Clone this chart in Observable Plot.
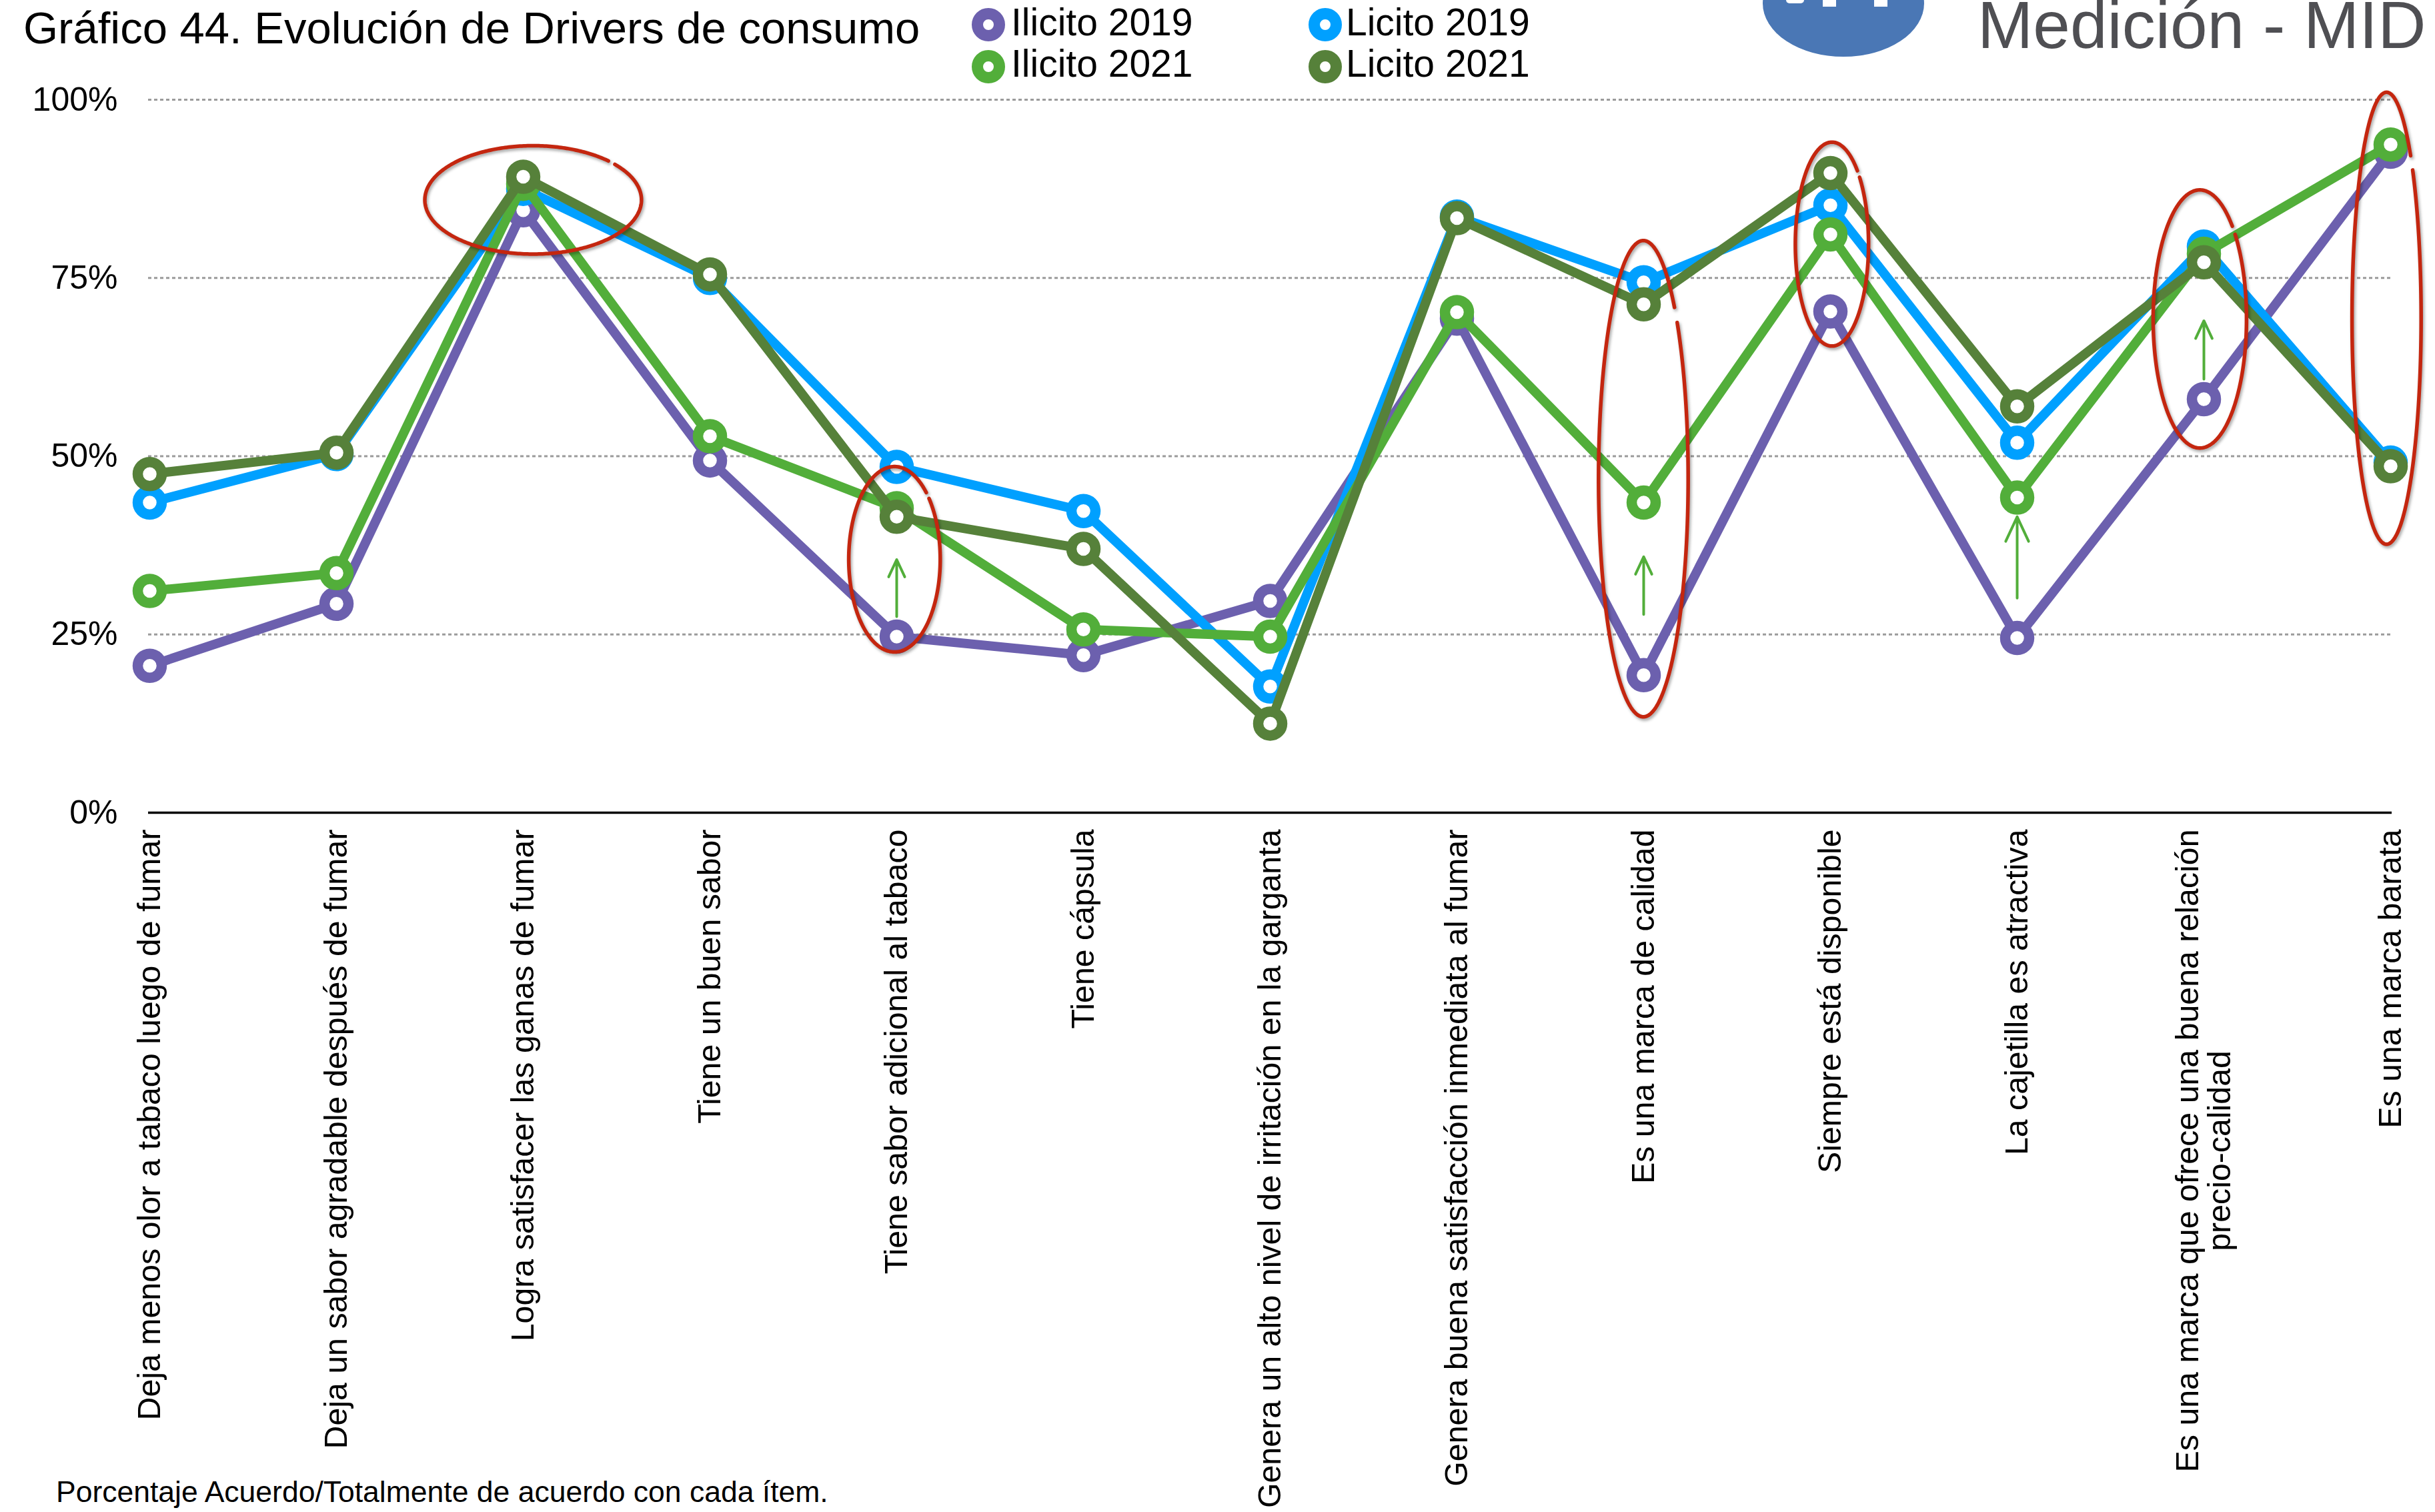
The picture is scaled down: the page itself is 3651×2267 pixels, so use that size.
<!DOCTYPE html>
<html>
<head>
<meta charset="utf-8">
<script src="https://cdn.jsdelivr.net/npm/d3@7"></script>
<script src="https://cdn.jsdelivr.net/npm/@observablehq/plot@0.6"></script>
<style>
  html, body { margin: 0; padding: 0; background: #fff; }
  #wrap { position: relative; width: 3651px; height: 2267px; overflow: hidden;
          font-family: "Liberation Sans", Arial, Helvetica, sans-serif; }
  .t { position: absolute; white-space: nowrap; line-height: 1; color: #000; }
  #chart { position: absolute; left: 0; top: 130px; }
</style>
</head>
<body>
<div id="wrap"></div>
<script>
// ---------------- DATA ----------------
const categories = [
  "Deja menos olor a tabaco luego de fumar",
  "Deja un sabor agradable después de fumar",
  "Logra satisfacer las ganas de fumar",
  "Tiene un buen sabor",
  "Tiene sabor adicional al tabaco",
  "Tiene cápsula",
  "Genera un alto nivel de irritación en la garganta",
  "Genera buena satisfacción inmediata al fumar",
  "Es una marca de calidad",
  "Siempre está disponible",
  "La cajetilla es atractiva",
  "Es una marca que ofrece una buena relación\nprecio-calidad",
  "Es una marca barata"
];
const seriesNames = ["Ilicito 2019", "Licito 2019", "Ilicito 2021", "Licito 2021"];
const ilicito2019 = [20.6, 29.3, 84.5, 49.4, 24.7, 22.1, 29.7, 69.3, 19.3, 70.3, 24.5, 58.0, 92.7];
const licito2019  = [43.5, 50.3, 87.5, 75.0, 48.5, 42.3, 17.7, 83.6, 74.4, 85.2, 51.9, 79.4, 49.1];
const ilicito2021 = [31.1, 33.6, 88.2, 52.8, 42.7, 25.7, 24.7, 70.2, 43.5, 81.1, 44.2, 78.4, 93.7];
const licito2021  = [47.5, 50.5, 89.2, 75.5, 41.5, 37.0, 12.5, 83.4, 71.3, 89.7, 57.0, 77.2, 48.6];
const yTicks = [0, 25, 50, 75, 100];

// annotation: highlighted items (category index, centre value, half-height in %)
const ellipseItems   = [2, 4, 8, 9, 11, 12];
const ellipseCenters = [85.9, 35.5, 46.8, 79.7, 69.2, 69.3];
const ellipseHalfH   = [7.6, 13.0, 33.4, 14.3, 18.1, 31.7];
// annotation arrows (category index, from %, to %)
const arrowItems = [4, 8, 10, 11];
const arrowFrom  = [27.5, 27.8, 30.1, 60.8];
const arrowTo    = [35.5, 35.9, 41.5, 69.0];

const footnote = "Porcentaje Acuerdo/Totalmente de acuerdo con cada ítem.";
const titleText = "Gráfico 44. Evolución de Drivers de consumo";
const logoText = "Medición - MID";

// ---------------- STYLE ----------------
const seriesColors = ["#6C60AE", "#00A0FF", "#52AE3A", "#56813A"];
const ellipseWidthFrac = [0.58, 0.245, 0.24, 0.196, 0.25, 0.185];
const ellipseShift     = [0.055, -0.01, 0.0, 0.01, -0.02, -0.02];

const seriesValues = [ilicito2019, licito2019, ilicito2021, licito2021];
const rows = seriesNames.flatMap((s, si) =>
  categories.map((c, ci) => ({ series: s, cat: c, value: seriesValues[si][ci] })));
const arrows = arrowItems.map((ci, k) => ({ cat: categories[ci], y1: arrowFrom[k], y2: arrowTo[k] }));

// hand-drawn style ellipse outline, with a small opening at the upper right
function ellipseMark(index, scales) {
  const g = d3.create("svg:g")
    .attr("fill", "none")
    .attr("stroke", "#C4260F")
    .attr("stroke-width", 5.5)
    .attr("stroke-linecap", "round")
    .style("filter", "drop-shadow(2px 3px 2px rgba(0,0,0,0.35))");
  const step = scales.x(categories[1]) - scales.x(categories[0]);
  const line = d3.line();
  ellipseItems.forEach((ci, k) => {
    const cx = scales.x(categories[ci]) + ellipseShift[k] * step;
    const cy = scales.y(ellipseCenters[k]);
    const ry = Math.abs(scales.y(ellipseCenters[k] + ellipseHalfH[k]) - cy);
    const rx = ellipseWidthFrac[k] * step;
    const pts = d3.range(-41, 314.1, 1).map(a => {
      const t = a * Math.PI / 180;
      return [cx + rx * Math.cos(t), cy + ry * Math.sin(t)];
    });
    g.append("path").attr("d", line(pts));
  });
  return g.node();
}

const chart = Plot.plot({
  width: 3651,
  height: 2137,
  marginLeft: 222,
  marginRight: 65,
  marginTop: 19,
  marginBottom: 1049,
  style: { fontFamily: "'Liberation Sans', Arial, sans-serif", background: "transparent", color: "#000", overflow: "visible" },
  x: { type: "point", domain: categories, padding: 0, label: null },
  y: { domain: [0, 100], label: null },
  color: { domain: seriesNames, range: seriesColors },
  marks: [
    Plot.ruleY(yTicks.filter(d => d > 0), { stroke: "#9b9b9b", strokeWidth: 3, strokeDasharray: "5,4" }),
    Plot.ruleY([0], { stroke: "#000", strokeWidth: 3.5 }),
    Plot.axisY({ ticks: yTicks, tickSize: 0, tickPadding: 46, fontSize: 50, tickFormat: d => d + "%", label: null }),
    Plot.axisX({ tickSize: 0, tickPadding: 25, tickRotate: -90, fontSize: 48.3, label: null,
                 textAnchor: "end", lineAnchor: "middle" }),
    ...seriesNames.flatMap(name => {
      const d = rows.filter(r => r.series === name);
      return [
        Plot.line(d, { x: "cat", y: "value", stroke: "series", strokeWidth: 14 }),
        Plot.dot(d, { x: "cat", y: "value", r: 18, stroke: "series", strokeWidth: 15.5, fill: "white" })
      ];
    }),
    Plot.arrow(arrows, { x1: "cat", x2: "cat", y1: "y1", y2: "y2", stroke: "#52AE3A",
                         strokeWidth: 4, headLength: 16, headAngle: 50 }),
    ellipseMark
  ]
});
chart.id = "chart";

const wrap = document.getElementById("wrap");

function addText(txt, left, top, size, color) {
  const d = document.createElement("div");
  d.className = "t";
  d.textContent = txt;
  d.style.left = left + "px";
  d.style.top = top + "px";
  d.style.fontSize = size + "px";
  if (color) d.style.color = color;
  wrap.appendChild(d);
  return d;
}
addText(titleText, 35, 8, 67);

// legend: columns Ilicito / Licito, rows 2019 / 2021
const legX = [1482, 1987], legY = [37, 100], legTextX = [1516, 2018], legTextTop = [5, 67];
seriesNames.forEach((name, i) => {
  const c = name.startsWith("Ilicito") ? 0 : 1;
  const r = name.endsWith("2019") ? 0 : 1;
  const svg = d3.create("svg").attr("width", 60).attr("height", 60)
    .style("position", "absolute")
    .style("left", (legX[c] - 30) + "px").style("top", (legY[r] - 30) + "px");
  svg.append("circle").attr("cx", 30).attr("cy", 30).attr("r", 16.5)
    .attr("fill", "white").attr("stroke", seriesColors[i]).attr("stroke-width", 17);
  wrap.appendChild(svg.node());
  addText(name, legTextX[c], legTextTop[r], 57);
});

// logo (cut at the top edge, as in the reference)
const logo = document.createElement("div");
Object.assign(logo.style, { position: "absolute", left: "2643px", top: "-75px", width: "242px", height: "160px",
  borderRadius: "50%", background: "#4A77B5" });
wrap.appendChild(logo);
[[2678, 27, 5, "0 0 12px 12px"], [2733, 20, 10, "0"], [2810, 20, 10, "0"]].forEach(([x, w, h, br]) => {
  const m = document.createElement("div");
  Object.assign(m.style, { position: "absolute", left: x + "px", top: "0px", width: w + "px", height: h + "px",
    background: "#fff", borderRadius: br });
  wrap.appendChild(m);
});
addText(logoText, 2965, -13, 100, "#4F4F53");

wrap.appendChild(chart);

addText(footnote, 84, 2215, 44.5);

// centre the second line of multi-line tick labels under the first (as in the reference)
chart.querySelectorAll("text").forEach(t => {
  const spans = t.querySelectorAll("tspan");
  if (spans.length > 1) {
    const L = spans[0].getComputedTextLength();
    t.setAttribute("text-anchor", "middle");
    spans.forEach(s => s.setAttribute("x", -L / 2));
  }
});
</script>
</body>
</html>
